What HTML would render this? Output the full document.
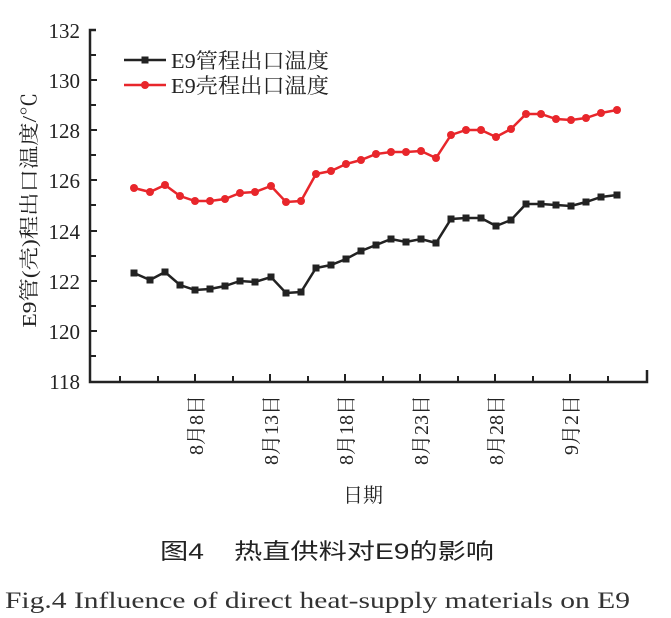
<!DOCTYPE html>
<html><head><meta charset="utf-8"><style>
html,body{margin:0;padding:0;background:#fff;}
svg{display:block;}
.s{font-family:"Liberation Serif","Noto Serif CJK SC",serif;}
.c{font-family:"Liberation Sans","Noto Sans CJK SC",sans-serif;}
</style></head><body>
<svg width="671" height="618" viewBox="0 0 671 618" xmlns="http://www.w3.org/2000/svg">
<g stroke="#222" stroke-width="2.5" fill="none">
<path d="M96 30 H90 V382 H647 V370"/>
</g>
<g stroke="#222" stroke-width="2">
<path d="M90 55h6M90 80h7M90 105h6M90 130h7M90 155h6M90 180h7M90 205h6M90 231h7M90 256h6M90 281h7M90 306h6M90 331h7M90 356h6"/>
<path d="M120 382v-6M158 382v-6M195 382v-8M233 382v-6M270 382v-8M308 382v-6M345 382v-8M383 382v-6M420 382v-8M458 382v-6M495 382v-8M533 382v-6M570 382v-8M608 382v-6"/>
</g>
<g class="s" font-size="21" fill="#222" text-anchor="end">
<text x="80" y="38">132</text><text x="80" y="88">130</text><text x="80" y="138">128</text>
<text x="80" y="188">126</text><text x="80" y="239">124</text><text x="80" y="289">122</text>
<text x="80" y="339">120</text><text x="80" y="389">118</text>
</g>
<text class="s" font-size="20" fill="#222" text-anchor="middle" transform="translate(36,210) rotate(-90)" textLength="235" lengthAdjust="spacingAndGlyphs">E9管(壳)程出口温度/℃</text>
<g class="s" font-size="20" fill="#222" text-anchor="end">
<text transform="translate(203,395) rotate(-90)">8月8日</text>
<text transform="translate(278,395) rotate(-90)">8月13日</text>
<text transform="translate(353,395) rotate(-90)">8月18日</text>
<text transform="translate(428,395) rotate(-90)">8月23日</text>
<text transform="translate(503,395) rotate(-90)">8月28日</text>
<text transform="translate(578,395) rotate(-90)">9月2日</text>
</g>
<text class="s" font-size="20" fill="#222" x="363" y="502" text-anchor="middle">日期</text>
<polyline fill="none" stroke="#e8262b" stroke-width="2.5" points="134,188 150,192 165,185 180,196 195,201 210,201 225,199 240,193 255,192 271,186 286,202 301,201 316,174 331,171 346,164 361,160 376,154 391,152 406,152 421,151 436,158 451,135 466,130 481,130 496,137 511,129 526,114 541,114 556,119 571,120 586,118 601,113 617,110"/>
<g fill="#e8262b">
<circle cx="134" cy="188" r="4"/><circle cx="150" cy="192" r="4"/><circle cx="165" cy="185" r="4"/><circle cx="180" cy="196" r="4"/><circle cx="195" cy="201" r="4"/><circle cx="210" cy="201" r="4"/><circle cx="225" cy="199" r="4"/><circle cx="240" cy="193" r="4"/><circle cx="255" cy="192" r="4"/><circle cx="271" cy="186" r="4"/><circle cx="286" cy="202" r="4"/><circle cx="301" cy="201" r="4"/><circle cx="316" cy="174" r="4"/><circle cx="331" cy="171" r="4"/><circle cx="346" cy="164" r="4"/><circle cx="361" cy="160" r="4"/><circle cx="376" cy="154" r="4"/><circle cx="391" cy="152" r="4"/><circle cx="406" cy="152" r="4"/><circle cx="421" cy="151" r="4"/><circle cx="436" cy="158" r="4"/><circle cx="451" cy="135" r="4"/><circle cx="466" cy="130" r="4"/><circle cx="481" cy="130" r="4"/><circle cx="496" cy="137" r="4"/><circle cx="511" cy="129" r="4"/><circle cx="526" cy="114" r="4"/><circle cx="541" cy="114" r="4"/><circle cx="556" cy="119" r="4"/><circle cx="571" cy="120" r="4"/><circle cx="586" cy="118" r="4"/><circle cx="601" cy="113" r="4"/><circle cx="617" cy="110" r="4"/>
</g>
<polyline fill="none" stroke="#222" stroke-width="2.5" points="134,273 150,280 165,272 180,285 195,290 210,289 225,286 240,281 255,282 271,277 286,293 301,292 316,268 331,265 346,259 361,251 376,245 391,239 406,242 421,239 436,243 451,219 466,218 481,218 496,226 511,220 526,204 541,204 556,205 571,206 586,202 601,197 617,195"/>
<g fill="#222">
<rect x="130.5" y="269.5" width="7" height="7"/><rect x="146.5" y="276.5" width="7" height="7"/><rect x="161.5" y="268.5" width="7" height="7"/><rect x="176.5" y="281.5" width="7" height="7"/><rect x="191.5" y="286.5" width="7" height="7"/><rect x="206.5" y="285.5" width="7" height="7"/><rect x="221.5" y="282.5" width="7" height="7"/><rect x="236.5" y="277.5" width="7" height="7"/><rect x="251.5" y="278.5" width="7" height="7"/><rect x="267.5" y="273.5" width="7" height="7"/><rect x="282.5" y="289.5" width="7" height="7"/><rect x="297.5" y="288.5" width="7" height="7"/><rect x="312.5" y="264.5" width="7" height="7"/><rect x="327.5" y="261.5" width="7" height="7"/><rect x="342.5" y="255.5" width="7" height="7"/><rect x="357.5" y="247.5" width="7" height="7"/><rect x="372.5" y="241.5" width="7" height="7"/><rect x="387.5" y="235.5" width="7" height="7"/><rect x="402.5" y="238.5" width="7" height="7"/><rect x="417.5" y="235.5" width="7" height="7"/><rect x="432.5" y="239.5" width="7" height="7"/><rect x="447.5" y="215.5" width="7" height="7"/><rect x="462.5" y="214.5" width="7" height="7"/><rect x="477.5" y="214.5" width="7" height="7"/><rect x="492.5" y="222.5" width="7" height="7"/><rect x="507.5" y="216.5" width="7" height="7"/><rect x="522.5" y="200.5" width="7" height="7"/><rect x="537.5" y="200.5" width="7" height="7"/><rect x="552.5" y="201.5" width="7" height="7"/><rect x="567.5" y="202.5" width="7" height="7"/><rect x="582.5" y="198.5" width="7" height="7"/><rect x="597.5" y="193.5" width="7" height="7"/><rect x="613.5" y="191.5" width="7" height="7"/>
</g>
<line x1="124" y1="60" x2="166" y2="60" stroke="#222" stroke-width="2.5"/>
<rect x="141.5" y="56.5" width="7" height="7" fill="#222"/>
<line x1="124" y1="85" x2="166" y2="85" stroke="#e8262b" stroke-width="2.5"/>
<circle cx="145" cy="85" r="4" fill="#e8262b"/>
<g class="s" font-size="21" fill="#222">
<text x="171" y="68" textLength="158" lengthAdjust="spacingAndGlyphs">E9管程出口温度</text>
<text x="171" y="93" textLength="158" lengthAdjust="spacingAndGlyphs">E9壳程出口温度</text>
</g>
<g class="c" font-size="22" fill="#222">
<text x="160" y="559" textLength="44" lengthAdjust="spacingAndGlyphs">图4</text>
<text x="234" y="559" textLength="260" lengthAdjust="spacingAndGlyphs">热直供料对E9的影响</text>
</g>
<text class="s" font-size="23" fill="#333" x="5" y="608" textLength="625" lengthAdjust="spacingAndGlyphs">Fig.4  Influence of direct heat-supply materials on E9</text>
</svg>
</body></html>
